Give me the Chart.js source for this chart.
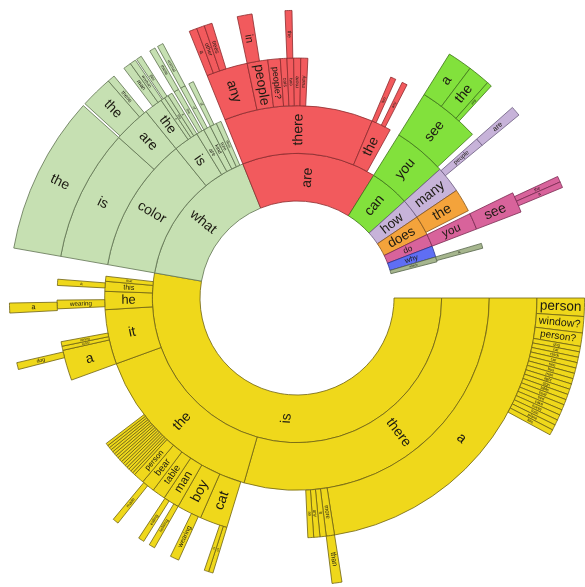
<!DOCTYPE html>
<html>
<head>
<meta charset="utf-8">
<script src="https://cdn.jsdelivr.net/npm/chart.js@4.4.1/dist/chart.umd.min.js"></script>
<style>
  html, body { margin: 0; background: #fff; }
  #wrap { width: 585px; height: 587px; }
</style>
</head>
<body>
<div id="wrap"><canvas id="sunburst"></canvas></div>
<script>
// Sunburst of the first four words of the questions.
// values are shares of the circle (degrees), '' = empty part of a ring
// roots: index of the first word (for the colour), -1 = empty

const ring1Words  = ['is', 'what', 'are', 'can', 'how', 'does', 'do', 'why', 'which', ''];
const ring1Values = [190, 58, 54, 16, 8, 8, 5, 4.5, 2, 14.5];
const ring1Roots  = [0, 1, 2, 3, 4, 5, 6, 7, 8, -1];

const ring2Words  = ['there', 'the', 'it', 'he', 'this', 'that', '',
                     'color', 'is', 'are', 'kind', 'type', 'does', '',
                     'there', 'the', '',
                     'you', 'many', 'the', '', 'you', '', 'is', ''];
const ring2Values = [106, 54, 16.5, 5.5, 3, 1.5, 3.5,
                     41, 7.6, 2.4, 2.2, 2, 1.5, 1.3,
                     45, 6, 3,
                     16, 8, 7, 1, 5, 4.5, 1.5, 15];
const ring2Roots  = [0, 0, 0, 0, 0, 0, -1,
                     1, 1, 1, 1, 1, 1, -1,
                     2, 2, -1,
                     3, 4, 5, -1, 6, -1, 8, -1];

const ring3Words  = ['a', 'more', 'it', 'any', 'an', '',
                     'cat', 'boy', 'man', 'table', 'bear', 'person',
                     'dog', 'girl', 'woman', 'bus', 'plate', 'food', 'train', 'picture',
                     'sky', 'water', 'pizza', 'bird', 'giraffe', 'horse', 'clock', 'elephant', '',
                     'a', 'sunny', 'raining', '', 'wearing', '', 'a', '',
                     'is', 'are', 'the', 'a', 'this', 'it', '', 'the', '', 'of', '', 'of', '',
                     'any', 'people', 'people?', 'cars', 'two', 'more', 'many', '',
                     'two', '', 'any', '',
                     'see', '', 'people', '', 'see', ''];
const ring3Values = [81, 2, 1.5, 1.5, 1.4, 19.6,
                     6.7, 6, 3.9, 3.2, 3.2, 2.6,
                     0.63, 0.63, 0.63, 0.63, 0.63, 0.63, 0.63, 0.63,
                     0.63, 0.63, 0.63, 0.63, 0.63, 0.63, 0.63, 0.63, 17.32,
                     7.4, 1, 1.1, 7.9, 2.1, 3.5, 1.5, 5.5,
                     32, 9, 4.5, 1, 1, 1.1, 0.6, 1.2, 0.6, 1.2, 1, 1.2, 3.6,
                     10, 5, 3, 1.6, 1.6, 1.7, 1.7, 20.4,
                     1.3, 1.7, 1.3, 4.7,
                     15, 1.5, 2, 13.5, 5, 21];
const ring3Roots  = [0, 0, 0, 0, 0, -1,
                     0, 0, 0, 0, 0, 0,
                     0, 0, 0, 0, 0, 0, 0, 0,
                     0, 0, 0, 0, 0, 0, 0, 0, -1,
                     0, 0, 0, -1, 0, -1, 0, -1,
                     1, 1, 1, 1, 1, 1, -1, 1, -1, 1, -1, 1, -1,
                     2, 2, 2, 2, 2, 2, 2, -1,
                     2, -1, 2, -1,
                     3, -1, 4, -1, 6, -1];

const ring4Words  = ['person', 'window?', 'person?',
                     'dog', 'cat', 'clock', 'car', 'tree', 'bus', 'man', 'light', 'sign',
                     'table', 'boat', 'bird', 'cake', 'horse', 'train', 'plane', 'kite', '',
                     'than', '', 'on', 'in', '', 'wearing', '', 'holding', '', 'eating', '',
                     'made', '', 'dog', '', 'a', '',
                     'the', '', 'the', 'these', '', 'man', 'woman', '', 'this', '',
                     'these', '', 'animal', '',
                     'a', 'other', 'trees', '', 'in', '', 'the', '',
                     'a', 'the', 'any', '', 'are', '', 'the', 'a', ''];
const ring4Values = [3.7, 3.3, 2.7,
                     1.1, 1.1, 1.1, 1.1, 1.1, 1.1, 1.1, 1.1, 1.1,
                     1.1, 1.1, 1.1, 1.1, 1.1, 1.1, 1.1, 1.1, 52.6,
                     2, 24, 0.9, 0.9, 5.5, 1.8, 3.6, 1.2, 1.3, 1.2, 5.1,
                     1.2, 35.9, 1.4, 10, 2, 11,
                     32, 0.5, 6.5, 1.5, 2.5, 1.6, 1.2, 0.3, 1.1, 2,
                     1.2, 0.6, 1.2, 5.8,
                     1.6, 1.6, 1.6, 5.2, 3, 6.6, 1.4, 33,
                     5, 4.5, 1, 6, 2, 14.5, 1.2, 1.2, 22.6];
const ring4Roots  = [0, 0, 0,
                     0, 0, 0, 0, 0, 0, 0, 0, 0,
                     0, 0, 0, 0, 0, 0, 0, 0, -1,
                     0, -1, 0, 0, -1, 0, -1, 0, -1, 0, -1,
                     0, -1, 0, -1, 0, -1,
                     1, -1, 1, 1, -1, 1, 1, -1, 1, -1,
                     1, -1, 1, -1,
                     2, 2, 2, -1, 2, -1, 2, -1,
                     3, 3, 3, -1, 4, -1, 6, 6, -1];

const fillColors   = ['#efd81b', '#c6e0b2', '#f25a5d', '#82e13c', '#c7b3d9',
                      '#f4a33b', '#d8639b', '#5f6ef4', '#a6b68e'];
const strokeColors = ['#6e6212', '#5f7251', '#8c2b2d', '#3d7318', '#6a5a7e',
                      '#87561a', '#7a2b52', '#27328f', '#56654a'];

function ring(words, values, roots) {
  return {
    data: values,
    words: words,
    backgroundColor: roots.map(r => r < 0 ? 'rgba(0,0,0,0)' : fillColors[r]),
    borderColor: roots.map(r => r < 0 ? 'rgba(0,0,0,0)' : strokeColors[r]),
    borderWidth: roots.map(r => r < 0 ? 0 : 0.8),
    hoverOffset: 0,
    weight: 1
  };
}

// labels drawn along the radius of each arc
const ringLabels = {
  id: 'ringLabels',
  afterDatasetsDraw(chart) {
    const ctx = chart.ctx;
    chart.data.datasets.forEach((ds, di) => {
      chart.getDatasetMeta(di).data.forEach((arc, i) => {
        const word = ds.words[i];
        if (!word) return;
        const p = arc.getProps(['x', 'y', 'startAngle', 'endAngle', 'innerRadius', 'outerRadius'], true);
        const mid = (p.startAngle + p.endAngle) / 2;
        const r = (p.innerRadius + p.outerRadius) / 2;
        const arcLen = (p.endAngle - p.startAngle) * r;
        const depth = p.outerRadius - p.innerRadius;
        let size = Math.min(14, arcLen * 0.8);
        ctx.font = size + 'px "Liberation Sans", Arial, sans-serif';
        const w = ctx.measureText(word).width;
        if (w > depth - 6) size = size * (depth - 6) / w;
        if (size < 2.5) return;
        let a = ((mid % (2 * Math.PI)) + 2 * Math.PI) % (2 * Math.PI);
        ctx.save();
        ctx.translate(p.x + Math.cos(mid) * r, p.y + Math.sin(mid) * r);
        ctx.rotate(a > Math.PI / 2 && a < 3 * Math.PI / 2 ? a + Math.PI : a);
        ctx.font = size + 'px "Liberation Sans", Arial, sans-serif';
        ctx.fillStyle = '#1c1a12';
        ctx.textAlign = 'center';
        ctx.textBaseline = 'middle';
        ctx.fillText(word, 0, 0);
        ctx.restore();
      });
    });
  }
};

document.addEventListener('DOMContentLoaded', function() {
  const ctx = document.getElementById('sunburst').getContext('2d');
  new Chart(ctx, {
    type: 'doughnut',
    data: {
      // first dataset is the outer ring
      datasets: [
        ring(ring4Words, ring4Values, ring4Roots),
        ring(ring3Words, ring3Values, ring3Roots),
        ring(ring2Words, ring2Values, ring2Roots),
        ring(ring1Words, ring1Values, ring1Roots)
      ]
    },
    options: {
      responsive: true,
      maintainAspectRatio: false,
      animation: false,
      rotation: 90,
      cutout: 97,
      layout: { padding: { left: 9, top: 9, right: 0, bottom: 0 } },
      events: [],
      plugins: {
        legend: { display: false },
        tooltip: { enabled: false }
      }
    },
    plugins: [ringLabels]
  });
});
</script>
</body>
</html>
